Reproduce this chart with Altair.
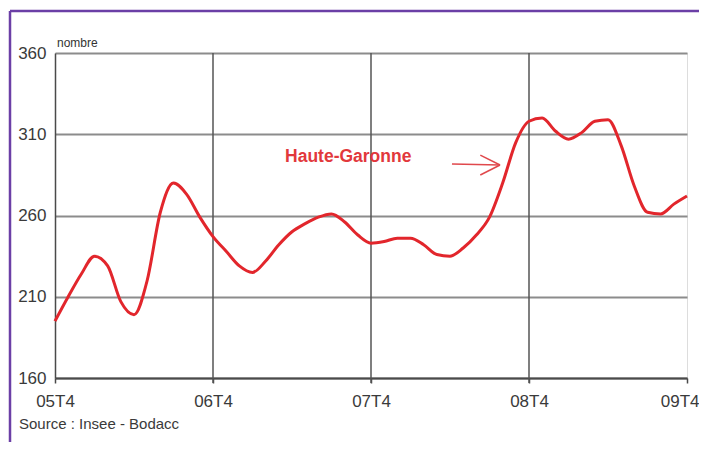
import altair as alt
import pandas as pd

# monthly index: 0 = 05T4 ... 48 = 09T4
months = list(range(49))
values = [195, 210, 224, 235, 229, 207, 199, 220, 262, 280, 273, 259, 247,
          238, 229, 225, 232, 242, 250, 255, 259, 261, 256, 248, 243,
          244, 246, 246, 242, 236, 235, 240, 248, 259, 280, 305, 318,
          320, 312, 307, 311, 318, 319, 303, 278, 262, 261, 267, 272]
tick_months = [0, 12, 24, 36, 48]
tick_labels = ["05T4", "06T4", "07T4", "08T4", "09T4"]
vgrid = [12, 24, 36]
y_ticks = [160, 210, 260, 310, 360]

# annotation arrow (data coordinates)
arrow_x = [30.15, 32.3, 32.3]
arrow_x2 = [33.8, 33.8, 33.8]
arrow_y = [291.7, 297.2, 284.9]
arrow_y2 = [291.1, 291.1, 291.1]

df = pd.DataFrame({"m": months, "v": values})
grid_df = pd.DataFrame({"m": vgrid})
arrow_df = pd.DataFrame({"x": arrow_x, "x2": arrow_x2, "y": arrow_y, "y2": arrow_y2})

label_expr = "{" + ",".join(f"'{m}':'{l}'" for m, l in zip(tick_months, tick_labels)) + "}[datum.value]"

FONT = "Liberation Sans"
RED = "#e2262c"

xs = alt.Scale(domain=[0, 48], nice=False, zero=False)
ys = alt.Scale(domain=[160, 360], nice=False, zero=False)

x_axis = alt.Axis(values=tick_months, labelExpr=label_expr, grid=False, domainColor="#4a4a4a",
                  domainWidth=2, tickColor="#4a4a4a", tickSize=5, tickWidth=1.5,
                  labelPadding=10, labelFontSize=17, labelFont=FONT, labelColor="#3a3a3a",
                  labelAlign=alt.condition("datum.value == 48", alt.value("right"), alt.value("center")),
                  labelOffset=alt.condition("datum.value == 48", alt.value(12), alt.value(0)),
                  title=None)
y_axis = alt.Axis(values=y_ticks, grid=True, gridColor="#8c8c8c", gridWidth=2,
                  domainColor="#4a4a4a", domainWidth=1.5, ticks=False, labelPadding=9,
                  labelFontSize=17, labelFont=FONT, labelColor="#3a3a3a", title=None)

line = alt.Chart(df).mark_line(color=RED, strokeWidth=3, interpolate="monotone").encode(
    x=alt.X("m:Q", scale=xs, axis=x_axis),
    y=alt.Y("v:Q", scale=ys, axis=y_axis),
)

vrules = alt.Chart(grid_df).mark_rule(color="#555555", strokeWidth=1.5).encode(
    x=alt.X("m:Q", scale=xs),
    y=alt.value(0),
    y2=alt.value(330),
)

arrow = alt.Chart(arrow_df).mark_rule(color="#e0484c", strokeWidth=1.5).encode(
    x=alt.X("x:Q", scale=xs), x2="x2:Q",
    y=alt.Y("y:Q", scale=ys), y2="y2:Q",
)

hg = alt.Chart(pd.DataFrame({"t": ["Haute-Garonne"]})).mark_text(
    font=FONT, fontSize=17.5, fontWeight="bold", color="#e2383c", align="left", baseline="middle"
).encode(text="t:N", x=alt.datum(17.47), y=alt.datum(296))

nombre = alt.Chart(pd.DataFrame({"t": ["nombre"]})).mark_text(
    font=FONT, fontSize=12, color="#333333", align="left", baseline="middle"
).encode(text="t:N", x=alt.value(2), y=alt.value(-10))

source = alt.Chart(pd.DataFrame({"t": ["Source : Insee - Bodacc"]})).mark_text(
    font=FONT, fontSize=15, color="#3a3a3a", align="left", baseline="middle"
).encode(text="t:N", x=alt.value(-36), y=alt.value(371))

PURPLE = "#6b3fa6"
border_top = alt.Chart(pd.DataFrame({"a": [0]})).mark_rule(color=PURPLE, strokeWidth=2.5).encode(
    x=alt.value(-45), x2=alt.value(700), y=alt.value(-42))
border_left = alt.Chart(pd.DataFrame({"a": [0]})).mark_rule(color=PURPLE, strokeWidth=2.5).encode(
    x=alt.value(-45), y=alt.value(-42), y2=alt.value(420))

chart = alt.layer(vrules, line, arrow, hg, nombre, source, border_top, border_left).properties(
    width=632, height=325,
    padding={"left": 47, "top": 45, "right": 12, "bottom": 64},
    autosize=alt.AutoSizeParams(type="none"),
).configure_view(stroke=None).configure(background="white")

chart.save("out.html", embed_options={"renderer": "svg", "actions": False})
